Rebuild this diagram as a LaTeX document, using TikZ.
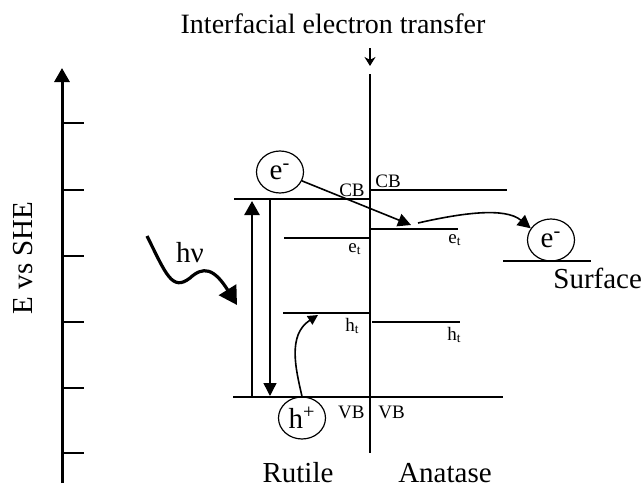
\documentclass[tikz,border=0pt]{standalone}
\usepackage{fontspec}
\setmainfont{Liberation Serif}
\usetikzlibrary{positioning, shapes.geometric, arrows.meta, calc}

\begin{document}
\begin{tikzpicture}[
  x=0.5pt, y=-0.5pt,
  every node/.style={font=\fontsize{14.5}{17}\selectfont, inner sep=0pt},
  tag/.style={font=\fontsize{9.5}{11}\selectfont, inner sep=0pt},
  band/.style={line width=0.9pt},
  trap/.style={line width=0.6pt},
  carrier/.style={ellipse, draw, line width=0.6pt, minimum width=23.5pt, minimum height=21pt},
  tip/.style={-{Triangle[width=#1, length=#1]}},
]
\useasboundingbox (0,0) rectangle (644,487);

% --- Energy axis (left)
\coordinate (axb) at (62,483);
\coordinate (axt) at (62,68);
\draw[line width=1.5pt, -{Triangle[width=7.5pt, length=7pt]}] (axb) -- (axt);
\foreach \y in {123,190,256,322,388,453} {
  \draw[line width=0.6pt] (62,\y) -- (84,\y);
}
\node[rotate=90] (axlab) at (23,258) {E vs SHE};

% --- Interface between the two phases
\coordinate (ift) at (370,74);
\coordinate (ifb) at (370,453);
\draw[line width=0.7pt] (ift) -- (ifb);
\node[anchor=base, font=\fontsize{14}{17}\selectfont] (title) at (333,33) {Interfacial electron transfer};
\coordinate (ias) at (370,48);
\coordinate (iae) at (370,66);
\draw[line width=1pt, -{Stealth[width=5.5pt, length=4.5pt]}] (ias) -- (iae);

% --- Rutile levels
\coordinate (rcbl) at (234,199);  \coordinate (rcbr) at (370,199);
\coordinate (retl) at (284,238);  \coordinate (retr) at (370,238);
\coordinate (rhtl) at (283,313);  \coordinate (rhtr) at (370,313);
\draw[band] (rcbl) -- (rcbr);
\draw[trap] (retl) -- (retr);
\draw[trap] (rhtl) -- (rhtr);
\node[tag, anchor=base east] (rcb) at (365,196) {CB};
\node[tag, anchor=base west] (ret) at (348,252) {e\textsubscript{t}};
\node[tag, anchor=base west] (rht) at (345,331) {h\textsubscript{t}};
\node[tag, anchor=base east] (rvb) at (365,418) {VB};
\node[anchor=base] (rutile) at (298,482) {Rutile};

% --- Anatase levels
\coordinate (acbl) at (370,190);  \coordinate (acbr) at (507,190);
\coordinate (aetl) at (370,229);  \coordinate (aetr) at (458,229);
\coordinate (ahtl) at (372,322);  \coordinate (ahtr) at (460,322);
\draw[band] (acbl) -- (acbr);
\draw[trap] (aetl) -- (aetr);
\draw[trap] (ahtl) -- (ahtr);
\node[tag, anchor=base west] (acb) at (375,187) {CB};
\node[tag, anchor=base west] (aet) at (448,243) {e\textsubscript{t}};
\node[tag, anchor=base west] (aht) at (447,340) {h\textsubscript{t}};
\node[tag, anchor=base west] (avb) at (378,418) {VB};
\node[anchor=base] (anatase) at (445,482) {Anatase};

% --- Common valence band
\coordinate (vbl) at (233,397);
\coordinate (vbr) at (503,397);
\draw[band] (vbl) -- (vbr);

% --- Excitation and recombination
\coordinate (upb) at (252,397);  \coordinate (upt) at (252,201);
\coordinate (dnt) at (270,199);  \coordinate (dnb) at (270,396);
\draw[line width=1.3pt, -{Triangle[width=7.5pt, length=7pt]}] (upb) -- (upt);
\draw[line width=0.7pt, -{Triangle[width=6.5pt, length=6.5pt]}] (dnt) -- (dnb);

% --- Photon
\coordinate (hvs) at (147,236);
\coordinate (hvt) at (237,305);
\draw[line width=1.6pt, -{Triangle[width=10pt, length=9pt]}]
  (hvs) .. controls (166,274) and (172,292) .. (190,278)
        .. controls (203,266) and (214,268) .. (hvt);
\node[anchor=base] (hv) at (190,262) {hν};

% --- Charge carriers
\node[carrier] (er) at (280,172) {e\textsuperscript{-}};
\node[carrier] (hr) at (302,418) {h\textsuperscript{+}};
\node[carrier] (es) at (551,240) {e\textsuperscript{-}};
\coordinate (sfl) at (503,261);
\coordinate (sfr) at (591,261);
\draw[trap] (sfl) -- (sfr);
\node[anchor=base west] (surf) at (553,288) {Surface};

% --- Transfer paths
\coordinate (etip) at (411,225);
\draw[line width=0.8pt, tip=6.5pt] (er) -- (etip);
\coordinate (ets) at (418,223);
\draw[line width=0.8pt, tip=6.5pt] (ets) .. controls (462,213) and (505,207) .. (es.150);
\coordinate (htip) at (318,315);
\draw[line width=0.8pt, tip=5pt] (hr.north) .. controls (296,370) and (287,335) .. (htip);

\end{tikzpicture}
\end{document}
